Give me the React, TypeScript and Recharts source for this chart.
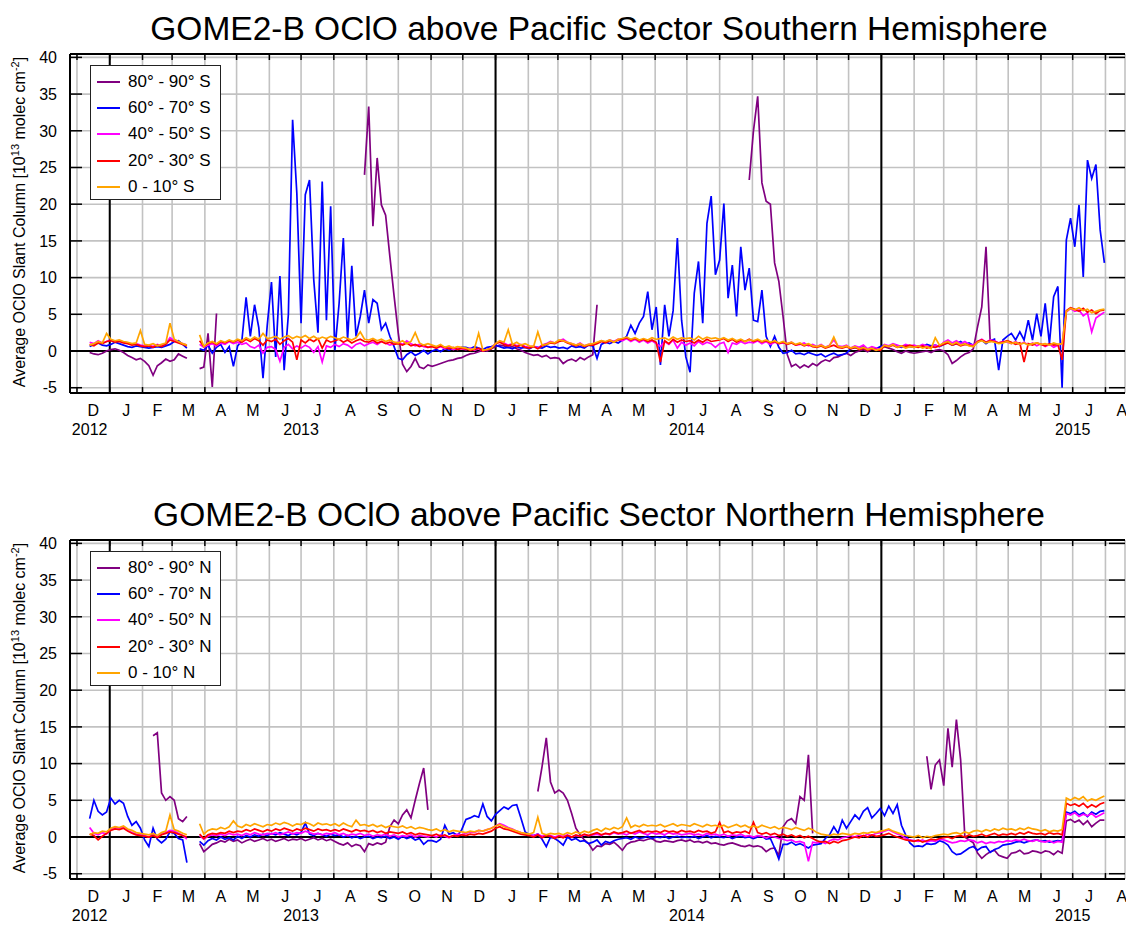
import React from 'react';
import { CartesianGrid, Line, LineChart, ReferenceLine, XAxis, YAxis } from 'recharts';

// x values are days counted from 1 Dec 2012; samples every 4 days from 13 Dec 2012
const START_DAY = 12;
const STEP_DAYS = 4;
const _ = null;

const MONTH_STARTS = [0, 31, 62, 90, 121, 151, 182, 212, 243, 274, 304, 335, 365, 396, 427, 455, 486, 516, 547, 577, 608, 639, 669, 700, 730, 761, 792, 820, 851, 881, 912, 942, 973];
const LAST_MONTH_END = 1004;
const MONTH_LABELS = ['D', 'J', 'F', 'M', 'A', 'M', 'J', 'J', 'A', 'S', 'O', 'N', 'D', 'J', 'F', 'M', 'A', 'M', 'J', 'J', 'A', 'S', 'O', 'N', 'D', 'J', 'F', 'M', 'A', 'M', 'J', 'J', 'A'];
const YEAR_LABELS = ['2012', '2013', '2014', '2015'];
const YEAR_LABEL_DAYS = [12, 212, 577, 942];
const YEAR_STARTS = [31, 396, 761];
const Y_TICKS = [-5, 0, 5, 10, 15, 20, 25, 30, 35, 40];
const X_DOMAIN: [number, number] = [-6.6, 991.5];
const Y_DOMAIN: [number, number] = [-5.72, 40.46];

const COLORS = ['#800080', '#0000ff', '#ff00ff', '#ff0000', '#ffa500'];
const SOUTH_NAMES = ['80° - 90° S', '60° - 70° S', '40° - 50° S', '20° - 30° S', '0 - 10° S'];
const NORTH_NAMES = ['80° - 90° N', '60° - 70° N', '40° - 50° N', '20° - 30° N', '0 - 10° N'];

const SOUTH_80_90: (number | null)[] = [
  -0.2, -0.4, -0.5, -0.3, 0.0,
  0.2, 0.3, 0.1, -0.2, -0.6, -0.9, -1.2, -1.0,
  -1.4, -2.0, -3.3, -2.0, -1.6, -1.1, -1.4,
  -1.2, -0.4, -0.7, -1.0, _, _, -2.4, -2.2,
  2.4, -4.9, 5.1, _, _, _, _,
  _, _, _, _, _, _, _, _,
  _, _, _, _, _, _, _,
  _, _, _, _, _, _, _, _,
  _, _, _, _, _, _, _, 24,
  33.3, 17, 26.3, 19.9, 18.5, 12.9, 7.5,
  2.4, -1.8, -2.8, -2.1, -1.0, -2.2, -2.4, -1.9,
  -2.1, -1.9, -1.7, -1.5, -1.3, -1.2, -1.0, -0.9,
  -0.6, -0.4, -0.3, -0.1, 0.1, 0.0, 0.3,
  0.6, 0.8, 0.7, 0.5, 0.6, 0.3, 0.1, -0.2,
  -0.4, -0.6, -0.5, -0.8, -0.6, -1.0, -0.9,
  -1.0, -1.7, -1.3, -1.1, -1.4, -0.9, -1.2, -0.8,
  -0.5, 6.3, _, _, _, _, _,
  _, _, _, _, _, _, _, _,
  _, _, _, _, _, _, _, _,
  _, _, _, _, _, _, _,
  _, _, _, _, _, _, _, 23.3,
  30, 34.7, 22.9, 20.4, 20.0, 12, 9.5, 4.7,
  -0.5, -2.1, -1.8, -2.3, -1.9, -2.2, -1.7,
  -2.0, -1.5, -1.2, -1.4, -0.9, -0.8, -0.5, -0.3,
  -0.6, -0.2, 0.0, 0.2, -0.1, 0.3, 0.1, 0.5,
  0.6, 0.4, 0.2, -0.1, -0.3, 0.0, -0.2,
  -0.3, -0.2, -0.1, 0.0, -0.2, 0.1, 0.2,
  0.0, -0.5, -1.7, -1.3, -0.8, -0.4, -0.2, 0.3,
  3.3, 6.0, 14.2, 1.2, _, _, _, _,
  _, _, _, _, _, _, _,
  _, _, _, _, _, _, _, _,
  _, _, _, _, _, _, _, _,
];

const SOUTH_60_70: (number | null)[] = [
  0.6, 0.9, 1.1, 0.8, 0.7,
  0.9, 1.2, 1.0, 0.8, 0.6, 0.5, 0.7, 0.6,
  0.5, 0.4, 0.5, 0.6, 0.5, 0.7, 0.9,
  1.3, 1.4, 0.9, 0.4, _, _, 0.3, 0.1,
  0.8, -0.3, 0.5, 0.9, -0.2, 0.6, -2.1,
  0.7, 1.4, 7.3, 2.0, 6.3, 3.2, -3.7, 3.5,
  9.4, -0.8, 10.2, -2.6, 5.0, 31.5, 21.5,
  3.8, 21.3, 23.3, 9.7, 2.5, 23.1, 4.2, 19.7,
  0.1, 6.5, 15.4, 1.5, 11.6, 2.0, 4.7, 8.3,
  3.8, 7.0, 6.5, 2.9, 3.8, 2.0, 0.6,
  -1.0, -1.2, -0.5, -0.1, -0.6, -0.3, 0.1, -0.4,
  0.0, 0.2, -0.1, 0.3, 0.1, 0.4, 0.2, 0.5,
  0.5, 0.3, 0.6, 0.4, 0.2, 0.5, 0.6,
  0.8, 0.6, 0.4, 0.5, 0.3, 0.6, 0.4, 0.5,
  0.3, 0.6, 0.5, 0.4, 0.7, 0.5, 0.6,
  0.4, 0.5, 0.3, 0.7, 0.5, 0.6, 0.4, 0.8,
  0.7, -1.0, 0.9, 1.2, 1.0, 1.3, 1.1,
  1.5, 2.0, 3.5, 2.4, 3.8, 4.7, 8.1, 2.9,
  6.0, -1.9, 6.3, 2.0, 5.5, 15.4, 4.2, -0.8,
  -2.9, 7.9, 12.2, 3.8, 17.4, 21.1, 10.4,
  12.4, 20.1, 7.2, 11.7, 4.7, 14.2, 8.3, 11.3,
  4.2, 4.0, 8.3, 2.0, 0.6, 2.0, 0.5, -0.3,
  -0.2, 0.1, -0.4, -0.3, -0.5, -0.2, -0.4,
  -0.6, -0.4, -0.8, -0.5, -0.3, -0.6, -0.5, -0.3,
  0.3, 0.5, 0.4, 0.6, 0.2, 0.5, 0.3, 0.6,
  0.8, 0.6, 0.9, 0.7, 0.5, 0.8, 0.6,
  0.5, 0.7, 0.6, 0.9, 0.7, 0.8, 0.6,
  0.9, 1.2, 0.8, 1.0, 1.3, 0.9, 1.1, 0.8,
  1.2, 1.5, 1.0, 1.4, 1.6, -2.6, 1.5, 2.0,
  2.4, 1.5, 2.6, 1.5, 4.2, 1.5, 5.1,
  2.0, 6.5, 1.0, 7.4, 8.8, -5.0, 15.1, 18.1,
  14.2, 19.9, 10.1, 26.0, 23.5, 25.4, 16.5, 12.0,
];

const SOUTH_40_50: (number | null)[] = [
  1.2, 1.0, 1.4, 1.1, 1.3,
  1.5, 1.3, 1.4, 1.2, 1.1, 0.9, 1.0, 0.8,
  0.7, 0.8, 0.6, 0.9, 0.7, 1.0, 1.8,
  1.4, 1.2, 1.0, 0.8, _, _, 0.9, 0.5,
  0.8, 1.0, 0.7, 1.1, 0.9, 1.3, 1.0,
  1.2, 0.9, 1.1, 0.6, 0.4, 0.8, -0.3, 0.5,
  0.6, 0.2, -1.4, 0.5, 0.9, 0.3, 0.7,
  0.4, 0.8, 0.5, -0.2, 0.6, -1.5, 0.7, 0.5,
  0.9, 0.6, 1.0, 0.8, 0.4, 0.9, 1.1, 0.7,
  1.0, 1.2, 0.9, 1.3, 1.1, 0.8, 1.0,
  1.2, 0.9, 1.4, 1.0, 0.7, 0.9, 0.6, 0.5,
  0.7, 0.4, 0.6, 0.3, 0.5, 0.2, 0.4, 0.3,
  0.2, 0.4, 0.1, 0.3, 0.0, 0.2, 0.4,
  1.0, 1.3, 1.1, 0.8, 1.0, 0.7, 0.9, 0.6,
  0.5, 0.7, 0.4, 0.8, 1.0, 1.3, 1.1,
  1.4, 1.6, 1.2, 1.0, 0.8, 1.1, 0.7, 0.9,
  0.9, 1.1, 1.4, 1.2, 1.5, 1.3, 1.6,
  1.4, 1.7, 1.3, 1.6, 1.2, 1.5, 1.1, 1.4,
  1.0, 0.6, 1.3, 0.9, 1.5, 0.4, 1.2, 0.8,
  1.1, 0.7, 1.3, 0.9, 1.2, 1.0, 0.5,
  1.0, 1.2, -0.2, 1.1, 0.9, 1.3, 1.0, 1.2,
  1.1, 1.4, 1.0, 1.3, 0.9, 1.2, 1.0, 1.1,
  1.0, 1.2, 0.8, 0.9, 1.1, 0.7, 0.9,
  0.6, 0.9, 0.5, 0.8, 1.5, 0.7, 0.6, 0.8,
  0.4, 0.7, 0.5, 0.8, 0.3, 0.6, 0.4, 0.2,
  0.9, 0.7, 1.0, 0.8, 0.6, 0.9, 0.7,
  0.8, 0.6, 0.9, 0.7, 0.5, 0.8, 0.6,
  1.2, 1.5, 1.1, 1.4, 1.0, 1.3, 0.9, 0.8,
  1.3, 1.6, 1.2, 1.5, 1.4, 1.1, 1.3, 1.2,
  1.0, 1.3, 0.9, 1.2, 0.8, 1.1, 0.7,
  1.0, 0.6, 0.9, 0.5, 0.8, 1.0, 5.3, 5.8,
  5.4, 5.6, 4.8, 5.2, 2.6, 4.5, 4.9, 5.3,
];

const SOUTH_20_30: (number | null)[] = [
  0.9, 0.7, 1.1, 1.0, 1.3,
  1.4, 1.2, 1.3, 1.1, 1.0, 0.8, 0.9, 0.7,
  0.6, 0.7, 0.5, 0.8, 0.6, 0.9, 1.5,
  1.3, 1.1, 0.9, 0.7, _, _, 1.4, 0.6,
  1.0, 1.2, 0.9, 1.3, 1.1, 1.4, 1.2,
  1.5, 1.2, 1.6, 1.3, 1.7, 1.4, 0.8, 1.5,
  1.3, 1.6, 0.9, 1.4, 1.7, 1.2, -1.2,
  1.5, 1.1, 1.6, 1.3, 1.7, 0.4, 1.5, 1.2,
  1.4, 1.6, 1.2, 1.5, 1.1, 1.4, 1.6, 1.3,
  1.2, 1.5, 1.1, 1.3, 1.0, 1.2, 0.9,
  1.0, 0.8, 1.1, 0.7, 0.9, 0.6, 0.8, 0.5,
  0.6, 0.4, 0.7, 0.5, 0.3, 0.5, 0.2, 0.4,
  0.3, 0.1, 0.2, 0.4, 0.0, 0.2, 0.3,
  1.0, 1.2, 0.9, 0.7, 0.9, 0.6, 0.8, 0.5,
  0.4, 0.6, 0.3, 0.7, 0.9, 1.1, 1.0,
  1.3, 1.4, 1.1, 0.9, 0.7, 0.9, 0.6, 0.8,
  0.8, 1.0, 1.3, 1.1, 1.4, 1.2, 1.5,
  1.6, 1.8, 1.5, 1.7, 1.4, 1.6, 1.3, 1.5,
  1.2, -1.5, 1.4, 1.0, 1.6, 1.2, 1.5, 1.3,
  1.4, 1.1, 1.5, 1.2, 1.6, 1.3, 1.4,
  1.5, 1.7, 1.3, 1.6, 1.2, 1.5, 1.3, 1.6,
  1.3, 1.5, 1.2, 1.4, 1.1, 1.3, 1.0, 1.2,
  0.9, 1.1, 0.8, 1.0, 0.7, 0.9, 0.6,
  0.5, 0.7, 0.4, 0.6, 0.8, 0.5, 0.4, 0.6,
  0.3, 0.5, 0.2, 0.4, 0.1, 0.3, 0.2, 0.1,
  0.7, 0.6, 0.8, 0.5, 0.7, 0.6, 0.8,
  0.6, 0.5, 0.7, 0.4, 0.6, 0.5, 0.7,
  0.9, 1.1, 0.8, 1.0, 0.7, 0.9, 0.8, 0.6,
  1.3, 1.5, 1.2, 1.4, 1.3, 1.1, 1.2, 1.4,
  1.2, 0.9, 1.1, -1.5, 1.0, 0.8, 1.1,
  0.9, 0.7, 1.0, 0.8, 0.9, -1.2, 5.5, 5.9,
  5.7, 5.4, 5.8, 5.3, 5.6, 5.1, 5.5, 5.6,
];

const SOUTH_0_10: (number | null)[] = [
  0.8, 1.0, 1.3, 1.1, 2.4,
  1.6, 1.4, 1.5, 1.3, 1.2, 1.0, 1.1, 2.8,
  0.9, 0.8, 1.0, 0.7, 0.9, 1.1, 3.8,
  1.6, 1.3, 1.0, 0.8, _, _, 2.2, 0.6,
  1.1, 1.3, 1.0, 1.4, 1.2, 1.5, 1.3,
  1.6, 1.4, 1.8, 1.5, 1.9, 1.6, 2.4, 1.7,
  1.8, 2.0, 1.6, 1.9, 2.1, 1.7, 2.0,
  1.8, 2.1, 1.7, 2.0, 1.6, 1.9, 1.7, 2.0,
  1.8, 1.6, 1.9, 1.7, 1.5, 1.8, 2.6, 1.6,
  1.5, 1.7, 1.4, 1.6, 1.3, 1.5, 1.2,
  1.1, 1.4, 1.0, 1.3, 2.5, 1.1, 0.8, 1.0,
  0.8, 0.6, 0.9, 0.5, 0.7, 0.4, 0.6, 0.5,
  0.4, 0.2, 0.3, 2.4, 0.1, 0.2, 0.4,
  1.0, 1.4, 1.2, 2.9, 0.9, 1.2, 0.8, 1.0,
  0.7, 0.6, 2.6, 0.8, 0.9, 1.2, 1.1,
  1.5, 1.4, 1.2, 1.0, 0.8, 1.0, 0.7, 0.9,
  1.0, 1.2, 1.4, 1.3, 1.5, 1.2, 1.6,
  1.7, 1.9, 1.6, 1.8, 1.5, 1.7, 1.5, 1.8,
  1.6, 1.7, 1.8, 1.5, 1.9, 1.6, 1.8, 1.7,
  1.8, 1.5, 2.0, 1.6, 1.9, 1.7, 1.8,
  1.6, 1.8, 1.5, 1.7, 1.4, 1.6, 1.3, 1.5,
  1.4, 1.6, 1.3, 1.5, 1.2, 1.4, 1.1, 1.3,
  1.0, 1.2, 0.9, 1.1, 0.8, 1.0, 0.7,
  0.6, 0.8, 0.5, 0.7, 1.9, 0.6, 0.5, 0.7,
  0.4, 0.6, 0.3, 0.5, 0.2, 0.4, 0.1, 0.3,
  0.8, 0.6, 0.9, 0.5, 0.7, 0.4, 0.6,
  0.5, 0.7, 0.4, 0.6, 0.3, 1.8, 0.8,
  1.1, 1.3, 0.9, 1.2, 0.8, 1.0, 0.7, 0.6,
  1.2, 1.4, 1.1, 1.3, 1.2, 1.0, 1.1, 1.3,
  1.0, 1.2, 0.9, 1.1, 0.8, 1.0, 1.1,
  0.9, 1.0, 0.8, 1.1, 0.9, 1.0, 5.4, 5.8,
  5.6, 5.9, 5.5, 5.7, 5.2, 5.4, 5.6, 5.7,
];

const NORTH_80_90: (number | null)[] = [
  _, _, _, _, _,
  _, _, _, _, _, _, _, _,
  _, _, 13.8, 14.2, 6.0, 5.0, 5.5,
  5.0, 2.5, 2.1, 2.8, _, _, -0.9, -2.0,
  -1.5, -1.0, -0.8, -0.5, -0.7, -0.3, -0.6,
  -0.4, -0.8, -0.5, -0.3, -0.6, -0.4, -0.2, -0.5,
  -0.3, -0.6, -0.4, -0.2, -0.5, -0.3, -0.4,
  -0.2, -0.5, -0.3, -0.1, -0.4, -0.2, -0.5, -0.3,
  -0.6, -0.9, -1.1, -0.8, -1.3, -1.0, -1.2, -2.0,
  -0.9, -1.1, -0.8, -1.0, -0.7, 1.4, 2.3,
  1.8, 3.0, 3.7, 2.6, 5.0, 7.3, 9.4, 3.7,
  _, _, _, _, _, _, _, _,
  _, _, _, _, _, _, _,
  _, _, _, _, _, _, _, _,
  _, _, 6.2, 9.6, 13.5, 7.5, 6.0,
  6.4, 6.0, 5.0, 3.2, 1.2, 0.3, -0.4, -0.9,
  -1.8, -1.2, -1.3, -0.9, -1.0, -0.7, -1.2,
  -1.8, -1.0, -0.7, -0.6, -0.4, -0.5, -0.3, -0.2,
  -0.6, -0.7, -0.5, -0.6, -0.7, -0.5, -0.4, -0.6,
  -0.4, -0.7, -0.6, -0.8, -0.6, -0.9, -0.8,
  -1.0, -1.1, -0.9, -0.8, -1.0, -1.2, -1.3, -1.1,
  -1.3, -1.2, -1.4, -2.0, -1.6, -1.5, -2.5, 1.4,
  2.2, 2.5, 1.8, 5.5, 5.0, 11.2, 0.5,
  _, _, _, _, _, _, _, _,
  _, _, _, _, _, _, _, _,
  _, _, _, _, _, _, _,
  _, _, _, 11.0, 6.5, 9.8, 10.5,
  7.0, 14.8, 9.5, 16.0, 10.5, 0.0, -0.4, -0.8,
  -2.2, -2.9, -2.4, -2.0, -1.8, -2.5, -2.7, -2.9,
  -2.2, -2.1, -1.8, -2.3, -2.2, -1.9, -2.0,
  -2.2, -1.9, -2.0, -2.4, -1.9, -2.2, 2.2, 2.4,
  2.0, 2.3, 1.7, 2.2, 1.4, 1.9, 2.3, 2.3,
];

const NORTH_60_70: (number | null)[] = [
  2.5, 5.0, 3.5, 3.0, 3.4,
  5.3, 4.5, 5.0, 4.6, 2.8, 1.6, 2.1, 1.2,
  -0.4, -1.3, 1.2, -0.3, -0.8, -0.3, 0.7,
  0.5, -0.2, -0.4, -3.5, _, _, -0.6, -1.1,
  -0.5, -0.2, -0.4, 0.0, -0.3, -0.1, -0.4,
  0.1, -0.2, 0.2, 0.0, 0.3, 0.1, 0.4, 0.2,
  0.5, 0.3, 0.6, 0.4, 0.2, 0.5, 0.3,
  0.6, 1.9, 0.4, 0.2, 0.5, 0.3, 0.1, 0.4,
  0.2, 0.3, 0.0, 0.2, -0.1, 0.1, -0.2, 0.0,
  0.1, -0.2, 0.0, -0.1, 0.1, -0.2, 0.0,
  -0.3, 0.1, -0.2, 0.0, -0.4, -0.2, -1.0, -0.5,
  -0.5, -0.7, -0.3, 1.6, 0.4, 0.6, 0.2, 1.0,
  2.4, 2.6, 2.9, 2.7, 4.5, 2.8, 2.2,
  3.1, 3.6, 4.1, 3.8, 4.3, 4.4, 2.6, 0.7,
  0.3, 0.2, 0.4, -0.3, -1.3, 0.0, -0.2,
  -0.6, -1.1, 0.0, -0.4, -0.2, -0.6, -0.5, -0.9,
  -0.7, -0.4, -1.1, -0.6, -0.8, -0.5, -0.3,
  -0.2, -0.1, -0.3, 0.0, -0.2, -0.1, 0.1, -0.2,
  0.0, -0.1, 0.1, -0.2, 0.0, 0.1, -0.1, 0.0,
  -0.1, 0.1, -0.2, 0.0, 0.2, -0.1, 0.1,
  0.0, -0.1, 0.1, -0.2, 0.0, 0.1, -0.1, 0.0,
  -0.2, 0.0, 0.1, -0.3, -0.2, -1.5, -3.0, -1.0,
  -1.0, -0.7, -1.1, -0.9, -1.2, -1.5, -1.1,
  -1.0, -0.9, -0.2, 0.3, 1.4, 0.5, 2.3, 1.2,
  2.1, 3.0, 2.4, 3.5, 4.0, 2.6, 3.2, 3.9,
  2.9, 4.2, 3.2, 4.4, 1.6, 0.3, -0.8,
  -1.3, -1.2, -1.3, -0.9, -1.0, -0.9, -0.5,
  -0.7, -1.1, -2.0, -2.4, -2.3, -1.9, -1.5, -1.3,
  -1.8, -1.4, -1.3, -2.1, -1.7, -1.5, -1.1, -1.0,
  -0.9, -0.7, -0.6, -0.8, -0.6, -0.5, -0.4,
  -0.6, -0.5, -0.7, -0.6, -0.5, -0.6, 3.4, 3.2,
  3.5, 3.0, 3.3, 2.8, 3.4, 3.1, 3.5, 3.6,
];

const NORTH_40_50: (number | null)[] = [
  1.3, 0.5, 0.3, 0.6, 0.4,
  1.0, 1.3, 1.2, 1.4, 0.9, 0.6, 0.4, 0.3,
  0.2, 0.0, 0.3, 0.1, 0.4, 0.6, 0.9,
  0.8, 0.5, 0.2, -0.3, _, _, 0.2, -0.3,
  0.1, 0.3, 0.2, 0.4, 0.2, 0.5, 0.3,
  0.4, 0.2, 0.5, 0.3, 0.6, 0.4, 0.3, 0.5,
  0.4, 0.6, 0.3, 0.5, 0.7, 0.4, 0.6,
  0.5, 0.8, 0.6, 0.4, 0.5, 0.3, 0.5, 0.4,
  0.6, 0.3, 0.5, 0.2, 0.4, 0.3, 0.5, 0.2,
  0.4, 0.1, 0.3, 0.2, 0.4, 0.1, 0.3,
  0.0, 0.2, 0.1, 0.3, 0.0, 0.2, 0.1, 0.0,
  0.2, 0.0, 0.3, 0.1, -0.1, 0.2, 0.4, 0.3,
  0.5, 0.7, 0.6, 0.9, 0.8, 1.0, 1.2,
  1.5, 1.8, 1.6, 1.3, 1.1, 0.8, 0.6, 0.4,
  0.3, 0.2, 0.4, 0.1, 0.3, 0.2, 0.0,
  0.2, 0.1, 0.3, 0.0, 0.2, 0.1, 0.3, 0.2,
  0.3, 0.4, 0.2, 0.5, 0.3, 0.6, 0.4,
  0.5, 0.3, 0.6, 0.4, 0.7, 0.5, 0.3, 0.6,
  0.4, 0.5, 0.3, 0.6, 0.4, 0.5, 0.3, 0.4,
  0.5, 0.3, 0.4, 0.2, 0.5, 0.3, 0.4,
  0.2, 0.4, 0.1, 0.3, 0.2, 0.4, 0.1, 0.2,
  0.0, 0.2, 0.1, -0.1, 0.1, 0.0, -0.2, -0.3,
  -0.5, -0.4, -0.7, -0.6, -0.8, -3.3, -0.7,
  -0.8, -0.6, -0.9, -0.5, -0.3, -0.4, -0.1, 0.0,
  0.2, 0.0, 0.3, 0.1, 0.4, 0.2, 0.5, 0.6,
  0.8, 1.0, 0.7, 0.4, 0.2, -0.2, -0.4,
  -0.5, -0.6, -0.4, -0.7, -0.5, -0.6, -0.3,
  -0.4, -0.6, -0.8, -0.7, -0.5, -0.6, -0.4, -0.5,
  -0.8, -0.6, -0.9, -0.7, -0.8, -0.6, -0.7, -0.5,
  -0.6, -0.4, -0.5, -0.3, -0.5, -0.6, -0.4,
  -0.6, -0.7, -0.5, -0.8, -0.6, -0.7, 3.2, 3.0,
  3.3, 2.8, 3.1, 2.9, 3.2, 2.7, 3.0, 3.3,
];

const NORTH_20_30: (number | null)[] = [
  0.4, 0.2, -0.4, 0.1, 0.5,
  0.9, 1.1, 1.0, 1.2, 0.8, 0.5, 0.3, 0.2,
  0.1, 0.0, 0.2, -0.1, 0.3, 0.5, 0.7,
  0.6, 0.4, 0.2, 0.0, _, _, 0.4, -0.2,
  0.3, 0.5, 0.4, 0.6, 0.5, 0.8, 0.6,
  0.8, 0.7, 1.0, 0.8, 1.1, 0.9, 0.7, 1.0,
  0.8, 1.1, 0.9, 1.2, 1.0, 0.8, 1.1,
  0.9, 1.2, 1.0, 0.8, 1.1, 0.9, 1.0, 0.8,
  1.0, 0.8, 1.1, 0.9, 0.7, 1.0, 0.8, 0.9,
  0.7, 0.9, 0.6, 0.8, 0.5, 0.7, 0.6,
  0.5, 0.7, 0.4, 0.6, 0.3, 0.5, 0.4, 0.3,
  0.2, 0.4, 0.1, 0.3, 0.0, 0.2, 0.1, 0.3,
  0.2, 0.4, 0.3, 0.5, 0.4, 0.6, 0.8,
  1.2, 1.4, 1.1, 1.0, 0.8, 0.6, 0.4, 0.3,
  0.2, 0.0, 0.3, -0.1, 0.2, 0.1, -0.2,
  0.1, -0.1, 0.2, 0.0, 0.3, 0.1, 0.4, 0.2,
  0.4, 0.6, 0.3, 0.5, 0.4, 0.7, 0.5,
  0.6, 0.8, 0.5, 0.7, 0.9, 0.6, 0.8, 0.7,
  0.8, 0.6, 0.9, 0.7, 0.8, 0.6, 0.9, 0.7,
  0.8, 0.6, 0.9, 0.7, 0.8, 0.5, 0.7,
  2.0, 0.6, 0.8, 0.5, 0.7, 0.6, 0.8, 0.5,
  2.0, 0.6, 0.4, 0.6, 0.3, 0.5, 0.2, 0.4,
  0.1, 0.3, 0.0, 0.2, -0.1, 0.1, -0.2,
  -0.5, -0.7, -0.6, -0.9, -0.6, -0.8, -0.5, -0.4,
  -0.2, 0.0, -0.1, 0.2, 0.0, 0.3, 0.1, 0.2,
  0.3, 0.5, 0.2, 0.0, -0.2, -0.4, -0.5,
  -0.6, -0.4, -0.7, -0.5, -0.3, -0.4, -0.2,
  -0.1, 0.0, -0.2, 0.1, 0.2, 0.0, 0.3, 0.1,
  0.2, 0.4, 0.1, 0.3, 0.5, 0.2, 0.4, 0.3,
  0.5, 0.3, 0.6, 0.4, 0.7, 0.5, 0.4,
  0.5, 0.3, 0.6, 0.4, 0.5, 0.3, 4.6, 4.3,
  4.5, 4.2, 4.6, 4.0, 4.4, 4.1, 4.5, 4.7,
];

const NORTH_0_10: (number | null)[] = [
  0.3, 0.6, 0.5, 0.8, 0.7,
  1.2, 1.4, 1.3, 1.5, 1.1, 0.9, 0.6, 0.5,
  0.4, 0.3, 0.5, 0.2, 0.6, 0.8, 3.0,
  1.0, 0.8, 0.5, 0.3, _, _, 1.8, 0.4,
  0.9, 1.1, 1.0, 1.3, 1.1, 1.4, 2.2,
  1.5, 1.3, 1.7, 1.5, 1.8, 1.6, 1.4, 1.7,
  1.6, 1.9, 1.7, 2.0, 1.8, 1.5, 1.8,
  1.7, 2.0, 1.8, 1.5, 1.9, 1.7, 1.8, 1.6,
  1.8, 1.5, 1.9, 1.6, 1.4, 2.3, 1.6, 1.7,
  1.5, 1.7, 1.4, 1.6, 1.3, 1.5, 1.4,
  1.3, 1.5, 1.2, 1.4, 1.1, 1.3, 1.2, 1.0,
  0.9, 1.1, 0.8, 1.0, 0.7, 0.9, 0.8, 0.7,
  0.6, 0.8, 0.7, 0.9, 0.8, 1.0, 1.2,
  1.5, 1.7, 1.4, 1.2, 1.0, 0.8, 0.6, 0.5,
  0.4, 0.6, 2.7, 0.5, 0.3, 0.5, 0.4,
  0.5, 0.3, 0.6, 0.4, 0.7, 0.5, 0.8, 0.6,
  0.9, 1.1, 0.8, 1.2, 1.0, 1.3, 1.1,
  1.4, 2.6, 1.3, 1.6, 1.4, 1.7, 1.5, 1.6,
  1.5, 1.7, 1.4, 1.6, 1.8, 1.5, 1.7, 1.6,
  1.5, 1.8, 1.6, 1.4, 1.7, 1.5, 1.6,
  1.4, 1.6, 1.3, 1.5, 1.7, 1.4, 1.6, 1.3,
  1.5, 1.3, 1.6, 1.4, 1.2, 1.4, 1.1, 1.3,
  1.2, 1.0, 1.3, 1.1, 0.9, 1.2, 1.0,
  0.6, 0.4, 0.3, 0.2, 0.4, 0.3, 0.5, 0.4,
  0.3, 0.5, 0.4, 0.6, 0.5, 0.7, 0.6, 0.8,
  0.9, 1.1, 0.8, 0.6, 0.4, 0.2, 0.1,
  0.0, 0.2, -0.1, 0.1, 0.0, 0.2, 0.3,
  0.4, 0.3, 0.5, 0.6, 0.4, 0.7, 0.5, 0.8,
  0.9, 0.7, 1.0, 0.8, 1.1, 0.9, 1.2, 1.0,
  1.1, 0.9, 1.2, 1.0, 1.3, 1.1, 1.0,
  0.8, 1.0, 0.7, 0.9, 0.8, 1.0, 5.3, 5.0,
  5.4, 5.1, 5.5, 4.9, 5.2, 5.0, 5.3, 5.6,
];

const SERIES_KEYS = ['s0', 's1', 's2', 's3', 's4'];

const CHART_W = 1126;
const CHART_H = 445;
const PLOT_H = 339;
const Y_AXIS_W = 70;
const X_AXIS_H = 1;
const MARGIN = { top: 54, right: 1, bottom: CHART_H - 54 - X_AXIS_H - PLOT_H, left: 0 };
const PX_PER_DAY = (CHART_W - Y_AXIS_W - MARGIN.right) / (X_DOMAIN[1] - X_DOMAIN[0]);
const PX_PER_UNIT = PLOT_H / (Y_DOMAIN[1] - Y_DOMAIN[0]);

function buildRows(series: (number | null)[][]) {
  const n = Math.max(...series.map((s) => s.length));
  const rows: Record<string, number | null>[] = [];
  for (let i = 0; i < n; i++) {
    const row: Record<string, number | null> = { day: START_DAY + i * STEP_DAYS };
    series.forEach((s, k) => {
      row[SERIES_KEYS[k]] = s[i] ?? null;
    });
    rows.push(row);
  }
  return rows;
}

const FONT = '"Liberation Sans", Arial, Helvetica, sans-serif';

// month ticks sit on month starts; the letter goes in the middle of the month
const MonthTick = (props: any) => {
  const start = props.payload.value;
  const i = MONTH_STARTS.indexOf(start);
  const end = MONTH_STARTS[i + 1] ?? LAST_MONTH_END;
  const yi = YEAR_LABEL_DAYS.findIndex((d) => d >= start && d < end);
  return (
    <g>
      <line x1={props.x} y1={props.y} x2={props.x} y2={props.y - 6} stroke="#000" strokeWidth={1.5} />
      <text
        x={props.x + ((end - start) / 2) * PX_PER_DAY}
        y={props.y + 23}
        textAnchor="middle"
        fontSize={16}
        fontFamily={FONT}
        fill="#000"
      >
        {MONTH_LABELS[i]}
      </text>
      {yi >= 0 && (
        <text
          x={props.x + (YEAR_LABEL_DAYS[yi] - start) * PX_PER_DAY}
          y={props.y + 42}
          textAnchor="middle"
          fontSize={16}
          fontFamily={FONT}
          fill="#000"
        >
          {YEAR_LABELS[yi]}
        </text>
      )}
    </g>
  );
};

const LeftTick = (props: any) => (
  <g>
    <line x1={props.x} y1={props.y} x2={props.x + 12} y2={props.y} stroke="#000" strokeWidth={1.5} />
    <text x={props.x - 13} y={props.y} dy="0.36em" textAnchor="end" fontSize={16} fontFamily={FONT} fill="#000">
      {props.payload.value}
    </text>
  </g>
);

interface PanelProps {
  top: number;
  title: string;
  names: string[];
  series: (number | null)[][];
}

const Panel: React.FC<PanelProps> = ({ top, title, names, series }) => {
  const rows = React.useMemo(() => buildRows(series), [series]);
  const frame = { stroke: '#000', strokeWidth: 2 };
  const topTickLen = 6 / PX_PER_UNIT;
  const rightTickLen = 16 / PX_PER_DAY;

  return (
    <div style={{ position: 'absolute', left: 0, top, width: CHART_W, height: CHART_H }}>
      <LineChart width={CHART_W} height={CHART_H} data={rows} margin={MARGIN}>
        <CartesianGrid stroke="#c2c2c2" strokeWidth={1.6} />
        <XAxis
          dataKey="day"
          type="number"
          domain={X_DOMAIN}
          allowDataOverflow
          ticks={MONTH_STARTS}
          interval={0}
          height={X_AXIS_H}
          tickSize={0}
          tickMargin={0}
          tickLine={false}
          axisLine={frame}
          tick={MonthTick}
        />
        <YAxis
          type="number"
          domain={Y_DOMAIN}
          allowDataOverflow
          ticks={Y_TICKS}
          interval={0}
          width={Y_AXIS_W}
          tickSize={0}
          tickMargin={0}
          tickLine={false}
          axisLine={frame}
          tick={LeftTick}
        />
        <ReferenceLine y={Y_DOMAIN[1]} stroke="#000" strokeWidth={2} ifOverflow="visible" />
        {MONTH_STARTS.map((d) => (
          <ReferenceLine
            key={'t' + d}
            segment={[
              { x: d, y: Y_DOMAIN[1] },
              { x: d, y: Y_DOMAIN[1] - topTickLen },
            ]}
            stroke="#000"
            strokeWidth={1.5}
            ifOverflow="visible"
          />
        ))}
        {Y_TICKS.map((v) => (
          <ReferenceLine
            key={'r' + v}
            segment={[
              { x: X_DOMAIN[1] - rightTickLen, y: v },
              { x: X_DOMAIN[1], y: v },
            ]}
            stroke="#000"
            strokeWidth={1.5}
            ifOverflow="visible"
          />
        ))}
        <ReferenceLine y={0} stroke="#000" strokeWidth={2} />
        {YEAR_STARTS.map((d) => (
          <ReferenceLine key={d} x={d} stroke="#000" strokeWidth={2} />
        ))}
        {SERIES_KEYS.map((key, k) => (
          <Line
            key={key}
            dataKey={key}
            type="linear"
            stroke={COLORS[k]}
            strokeWidth={1.7}
            dot={false}
            activeDot={false}
            isAnimationActive={false}
          />
        ))}
      </LineChart>

      <div
        style={{
          position: 'absolute',
          left: 599,
          top: 11.6,
          transform: 'translateX(-50%)',
          fontSize: 33.5,
          lineHeight: '33.5px',
          whiteSpace: 'nowrap',
          fontFamily: FONT,
          color: '#000',
        }}
      >
        {title}
      </div>

      <div
        style={{
          position: 'absolute',
          left: 20,
          top: 222,
          transform: 'translate(-50%, -50%) rotate(-90deg)',
          fontSize: 16,
          lineHeight: '16px',
          whiteSpace: 'nowrap',
          fontFamily: FONT,
          color: '#000',
        }}
      >
        Average OClO Slant Column [10
        <sup style={{ fontSize: 11, lineHeight: 0 }}>13</sup> molec cm
        <sup style={{ fontSize: 11, lineHeight: 0 }}>-2</sup>]
      </div>

      <div
        style={{
          position: 'absolute',
          left: 90,
          top: 65,
          width: 131,
          height: 135,
          boxSizing: 'border-box',
          border: '1px solid #222',
          background: '#fff',
          fontFamily: FONT,
        }}
      >
        {names.map((name, k) => (
          <div key={name} style={{ position: 'absolute', left: 0, top: 2.7 + 26.3 * k, height: 26, width: '100%' }}>
            <div style={{ position: 'absolute', left: 6, top: 12, width: 23, height: 2, background: COLORS[k] }} />
            <div
              style={{
                position: 'absolute',
                left: 37,
                top: 0,
                fontSize: 17,
                lineHeight: '26px',
                whiteSpace: 'nowrap',
                color: '#000',
              }}
            >
              {name}
            </div>
          </div>
        ))}
      </div>
    </div>
  );
};

const SOUTH = [SOUTH_80_90, SOUTH_60_70, SOUTH_40_50, SOUTH_20_30, SOUTH_0_10];
const NORTH = [NORTH_80_90, NORTH_60_70, NORTH_40_50, NORTH_20_30, NORTH_0_10];

export default function App() {
  return (
    <div
      style={{
        position: 'absolute',
        left: 0,
        top: 0,
        width: 1126,
        height: 925,
        overflow: 'hidden',
        background: '#fff',
      }}
    >
      <Panel top={0} title="GOME2-B OClO above Pacific Sector Southern Hemisphere" names={SOUTH_NAMES} series={SOUTH} />
      <Panel top={486} title="GOME2-B OClO above Pacific Sector Northern Hemisphere" names={NORTH_NAMES} series={NORTH} />
    </div>
  );
}
